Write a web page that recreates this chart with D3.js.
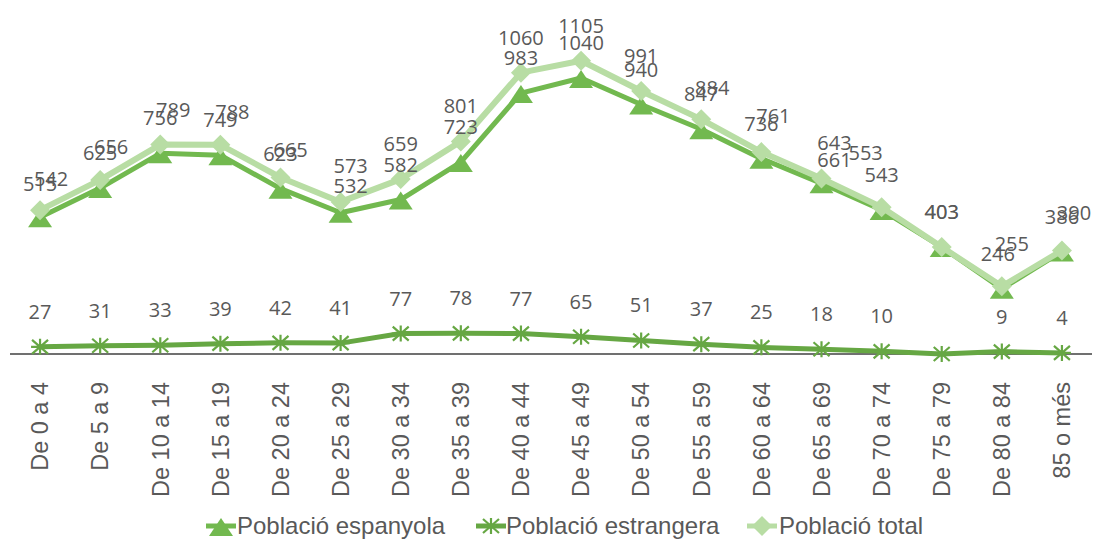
<!DOCTYPE html>
<html><head><meta charset="utf-8">
<script src="https://cdn.jsdelivr.net/npm/d3@7"></script>
<style>
html,body{margin:0;padding:0;background:#fff;}
svg{display:block;}
</style></head>
<body>
<svg id="chart" width="1093" height="539"></svg>
<script>
const categories = ["De 0 a 4","De 5 a 9","De 10 a 14","De 15 a 19","De 20 a 24","De 25 a 29","De 30 a 34","De 35 a 39","De 40 a 44","De 45 a 49","De 50 a 54","De 55 a 59","De 60 a 64","De 65 a 69","De 70 a 74","De 75 a 79","De 80 a 84","85 o més"];
const espanyola  = [515,625,756,749,623,532,582,723,983,1040,940,847,736,643,543,403,246,386];
const estrangera = [27,31,33,39,42,41,77,78,77,65,51,37,25,18,10,0,9,4];
const total      = [542,656,789,788,665,573,659,801,1060,1105,991,884,761,661,553,403,255,390];
const seriesNames = ["Població espanyola","Població estrangera","Població total"];

// label nudges (layout only): [dx, dy] relative to default spot above the point
const nudgeEsp = {0:[0,2],5:[10,8],13:[13,-5],16:[-4,0]};
const nudgeTot = {0:[11,4],1:[11,2],2:[13,0],3:[12,2],4:[10,8],5:[10,-1],11:[11,4],12:[12,-1],13:[13,16],14:[-16,-19],16:[10,-7],17:[12,-2]};

const colEsp = "#72b94f", colEst = "#66a743", colTot = "#b8dda4";
const svg = d3.select("#chart");

const x = d3.scaleBand().domain(categories).range([10,1092]);
const y = d3.scaleLinear().domain([0,1200]).range([354,35.5]);
const cx = c => x(c) + x.bandwidth()/2;

// axis line
svg.append("line").attr("x1",10).attr("x2",1092).attr("y1",y(0)).attr("y2",y(0))
  .attr("stroke","#707070").attr("stroke-width",2);

// x labels
svg.append("g").selectAll("text").data(categories).join("text")
  .attr("transform", d => `translate(${cx(d)},382) rotate(-90)`)
  .attr("text-anchor","end").attr("dy","0.35em")
  .attr("font-family","'Liberation Sans', Arial, sans-serif").attr("font-size",23.5)
  .attr("fill","#595959").text(d => d);

const triPath = "M0,-8 L12,10 L-12,10 Z";
const diaPath = "M0,-10 L10,0 L0,10 L-10,0 Z";
const starPath = "M0,-8 L0,8 M-8,-7 L8,7 M-8,7 L8,-7 M-9,0 L9,0";

function drawSeries(vals, color, width, marker) {
  const g = svg.append("g");
  const line = d3.line().x((d,i) => cx(categories[i])).y(d => y(d));
  g.append("path").datum(vals).attr("d", line).attr("fill","none")
    .attr("stroke", color).attr("stroke-width", width).attr("stroke-linejoin","round");
  const m = g.selectAll(".m").data(vals).join("path")
    .attr("transform",(d,i) => `translate(${cx(categories[i])},${y(d)})`);
  if (marker === "star") m.attr("d", starPath).attr("fill","none").attr("stroke", color).attr("stroke-width",2.2);
  else m.attr("d", marker === "tri" ? triPath : diaPath).attr("fill", color);
}
drawSeries(espanyola, colEsp, 5, "tri");
drawSeries(estrangera, colEst, 5, "star");
drawSeries(total, colTot, 6, "dia");

function drawLabels(vals, nudge, skipZero) {
  const items = vals.map((v,i) => ({v, i})).filter(o => !(skipZero && o.v === 0));
  svg.append("g").selectAll("text").data(items).join("text")
    .attr("x", o => cx(categories[o.i]) + (nudge[o.i] ? nudge[o.i][0] : 0))
    .attr("y", o => y(o.v) - 35 + (nudge[o.i] ? nudge[o.i][1] : 0))
    .attr("dy","0.35em").attr("text-anchor","middle")
    .attr("font-family","'Open Sans', sans-serif").attr("font-size",20)
    .attr("fill","#595959").text(o => o.v);
}
drawLabels(espanyola, nudgeEsp, false);
drawLabels(estrangera, {}, true);
drawLabels(total, nudgeTot, false);

// legend
const legend = [
  {name: seriesNames[0], color: colEsp, marker: "tri", mx: 221, tx: 237},
  {name: seriesNames[1], color: colEst, marker: "star", mx: 491, tx: 506},
  {name: seriesNames[2], color: colTot, marker: "dia", mx: 762, tx: 779}
];
const lg = svg.append("g");
legend.forEach(l => {
  lg.append("line").attr("x1", l.mx-15).attr("x2", l.mx+15).attr("y1",526).attr("y2",526)
    .attr("stroke", l.color).attr("stroke-width",5);
  const p = lg.append("path").attr("transform",`translate(${l.mx},526)`);
  if (l.marker === "star") p.attr("d", starPath).attr("fill","none").attr("stroke", l.color).attr("stroke-width",2.2);
  else p.attr("d", l.marker === "tri" ? triPath : diaPath).attr("fill", l.color);
  lg.append("text").attr("x", l.tx).attr("y",526).attr("dy","0.35em")
    .attr("font-family","'Liberation Sans', Arial, sans-serif").attr("font-size",24)
    .attr("fill","#595959").text(l.name);
});
</script>
</body></html>
